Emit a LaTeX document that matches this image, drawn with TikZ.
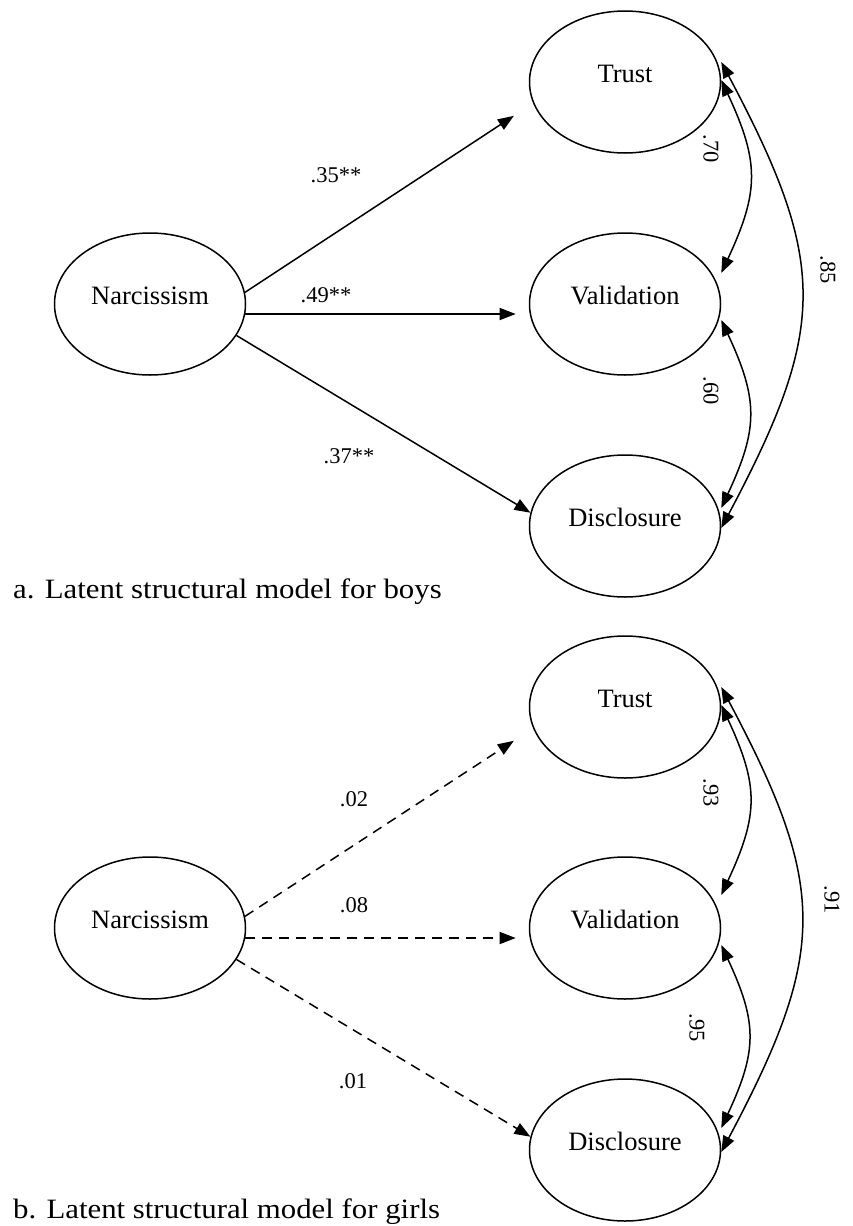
\documentclass[tikz,border=0pt]{standalone}
\usepackage{fontspec}
\setmainfont{Liberation Serif}
\newfontfamily\capfont[FakeStretch=1.1]{Liberation Serif}
\usetikzlibrary{arrows.meta, calc, shapes.geometric}

\begin{document}
\begin{tikzpicture}[x=1pt, y=1pt,
   lat/.style={draw, ellipse, line width=1.5pt, minimum width=191pt, minimum height=142pt,
               inner sep=0pt, text height=18pt, text depth=18pt,
               font=\fontsize{26.5}{30}\selectfont},
   reg/.style={line width=1.5pt, -{Triangle[length=16pt, width=12pt]}},
   ns/.style={reg, dash pattern=on 10pt off 7pt},
   cov/.style={line width=1.5pt,
               {Triangle[length=16pt, width=12pt]}-{Triangle[length=16pt, width=12pt]}},
   coef/.style={inner sep=0pt, font=\fontsize{22.5}{26}\selectfont},
   caption/.style={anchor=base west, inner sep=0pt, font=\capfont\fontsize{28}{32}\selectfont}]

  \useasboundingbox (0,0) rectangle (852,-1226);

  % a. boys
  \node[lat] (narA)   at (150,-304) {Narcissism};
  \node[lat] (trustA) at (625,-82)  {Trust};
  \node[lat] (valA)   at (625,-304) {Validation};
  \node[lat] (discA)  at (625,-526) {Disclosure};

  \draw[reg, shorten >=23pt] (narA.7) -- (trustA.193);
  \draw[reg, shorten >=14pt] (narA.-6) -- (valA.186);
  \draw[reg] (narA.-20) -- (discA.172);

  \draw[cov] ($(trustA.east)+(0,2)$) to[out=-65, in=65, looseness=1.2] ($(valA.east)+(0,31)$);
  \draw[cov] ($(valA.east)+(0,-16)$) to[out=-65, in=65, looseness=1.2] ($(discA.east)+(0,18)$);
  \draw[cov] ($(trustA.east)+(0,20)$) to[out=-62, in=62, looseness=1.25] ($(discA.east)+(0,-2)$);

  \node[coef] (bTA) at (336,-175) {.35**};
  \node[coef] (bVA) at (326,-295) {.49**};
  \node[coef] (bDA) at (349,-456) {.37**};
  \node[coef, rotate=-90] (rTVA) at (711,-149) {.70};
  \node[coef, rotate=-90] (rVDA) at (711,-391) {.60};
  \node[coef, rotate=-90] (rTDA) at (828,-270) {.85};

  \node[caption] (capA) at (13,-598) {a. Latent structural model for boys};

  % b. girls
  \node[lat] (narB)   at (150,-928)  {Narcissism};
  \node[lat] (trustB) at (625,-707)  {Trust};
  \node[lat] (valB)   at (625,-928)  {Validation};
  \node[lat] (discB)  at (625,-1150) {Disclosure};

  \draw[ns, shorten >=23pt] (narB.7) -- (trustB.193);
  \draw[ns, shorten >=14pt] (narB.-6) -- (valB.186);
  \draw[ns] (narB.-20) -- (discB.172);

  \draw[cov] ($(trustB.east)+(0,2)$) to[out=-65, in=65, looseness=1.2] ($(valB.east)+(0,33)$);
  \draw[cov] ($(valB.east)+(0,-17)$) to[out=-65, in=65, looseness=1.2] ($(discB.east)+(0,22)$);
  \draw[cov] ($(trustB.east)+(0,20)$) to[out=-62, in=62, looseness=1.25] ($(discB.east)+(0,-2)$);

  \node[coef] (bTB) at (354,-799)  {.02};
  \node[coef] (bVB) at (354,-905)  {.08};
  \node[coef] (bDB) at (353,-1081) {.01};
  \node[coef, rotate=-90] (rTVB) at (711,-793)  {.93};
  \node[coef, rotate=-90] (rVDB) at (697,-1028) {.95};
  \node[coef, rotate=-90] (rTDB) at (832,-900)  {.91};

  \node[caption] (capB) at (13,-1218) {b. Latent structural model for girls};
\end{tikzpicture}
\end{document}
